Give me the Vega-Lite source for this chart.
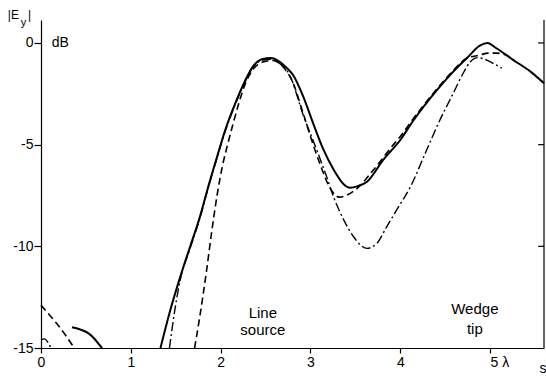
{
  "$schema": "https://vega.github.io/schema/vega-lite/v6.json",
  "width": 503,
  "height": 328,
  "autosize": {"type": "none"},
  "padding": {"left": 41, "top": 20, "right": 2, "bottom": 28},
  "background": "white",
  "config": {
    "view": {"stroke": null},
    "axis": {
      "domainColor": "black", "domainWidth": 1.2, "tickColor": "black", "tickWidth": 1.2,
      "labelColor": "black", "labelFont": "Liberation Sans", "labelFontSize": 14,
      "titleColor": "black", "titleFont": "Liberation Sans", "titleFontSize": 14, "titleFontWeight": "normal",
      "grid": false
    },
    "text": {"font": "Liberation Sans", "color": "black"}
  },
  "datasets": {
    "curves": [
      {"c": "solid", "g": "a", "s": 0.345, "e": -13.98},
      {"c": "solid", "g": "a", "s": 0.43, "e": -14.08},
      {"c": "solid", "g": "a", "s": 0.53, "e": -14.28},
      {"c": "solid", "g": "a", "s": 0.6, "e": -14.57},
      {"c": "solid", "g": "a", "s": 0.66, "e": -14.9},
      {"c": "solid", "g": "a", "s": 0.68, "e": -15},
      {"c": "solid", "g": "b", "s": 1.33, "e": -15},
      {"c": "solid", "g": "b", "s": 1.44, "e": -13.13},
      {"c": "solid", "g": "b", "s": 1.55, "e": -11.5},
      {"c": "solid", "g": "b", "s": 1.66, "e": -10.02},
      {"c": "solid", "g": "b", "s": 1.77, "e": -8.54},
      {"c": "solid", "g": "b", "s": 1.86, "e": -7.1},
      {"c": "solid", "g": "b", "s": 1.96, "e": -5.6},
      {"c": "solid", "g": "b", "s": 2.05, "e": -4.3},
      {"c": "solid", "g": "b", "s": 2.16, "e": -3.0},
      {"c": "solid", "g": "b", "s": 2.27, "e": -1.88},
      {"c": "solid", "g": "b", "s": 2.36, "e": -1.15},
      {"c": "solid", "g": "b", "s": 2.46, "e": -0.8},
      {"c": "solid", "g": "b", "s": 2.56, "e": -0.74},
      {"c": "solid", "g": "b", "s": 2.65, "e": -0.9},
      {"c": "solid", "g": "b", "s": 2.73, "e": -1.2},
      {"c": "solid", "g": "b", "s": 2.81, "e": -1.6},
      {"c": "solid", "g": "b", "s": 2.92, "e": -2.64},
      {"c": "solid", "g": "b", "s": 3.03, "e": -3.95},
      {"c": "solid", "g": "b", "s": 3.14, "e": -5.2},
      {"c": "solid", "g": "b", "s": 3.26, "e": -6.25},
      {"c": "solid", "g": "b", "s": 3.37, "e": -6.95},
      {"c": "solid", "g": "b", "s": 3.44, "e": -7.12},
      {"c": "solid", "g": "b", "s": 3.52, "e": -7.05},
      {"c": "solid", "g": "b", "s": 3.63, "e": -6.82},
      {"c": "solid", "g": "b", "s": 3.81, "e": -5.75},
      {"c": "solid", "g": "b", "s": 4.0, "e": -4.77},
      {"c": "solid", "g": "b", "s": 4.14, "e": -3.85},
      {"c": "solid", "g": "b", "s": 4.41, "e": -2.31},
      {"c": "solid", "g": "b", "s": 4.59, "e": -1.41},
      {"c": "solid", "g": "b", "s": 4.74, "e": -0.75},
      {"c": "solid", "g": "b", "s": 4.89, "e": -0.12},
      {"c": "solid", "g": "b", "s": 4.97, "e": 0.0},
      {"c": "solid", "g": "b", "s": 5.07, "e": -0.26},
      {"c": "solid", "g": "b", "s": 5.26, "e": -0.84},
      {"c": "solid", "g": "b", "s": 5.45, "e": -1.41},
      {"c": "solid", "g": "b", "s": 5.6, "e": -1.98},

      {"c": "dash", "g": "a", "s": 0, "e": -12.9},
      {"c": "dash", "g": "a", "s": 0.09, "e": -13.35},
      {"c": "dash", "g": "a", "s": 0.175, "e": -13.8},
      {"c": "dash", "g": "a", "s": 0.27, "e": -14.35},
      {"c": "dash", "g": "a", "s": 0.37, "e": -15},
      {"c": "dash", "g": "b", "s": 1.71, "e": -15},
      {"c": "dash", "g": "b", "s": 1.77, "e": -13.4},
      {"c": "dash", "g": "b", "s": 1.84, "e": -11.3},
      {"c": "dash", "g": "b", "s": 1.9, "e": -9.3},
      {"c": "dash", "g": "b", "s": 1.96, "e": -7.5},
      {"c": "dash", "g": "b", "s": 2.02, "e": -6.05},
      {"c": "dash", "g": "b", "s": 2.08, "e": -4.95},
      {"c": "dash", "g": "b", "s": 2.14, "e": -3.95},
      {"c": "dash", "g": "b", "s": 2.2, "e": -3.0},
      {"c": "dash", "g": "b", "s": 2.27, "e": -2.05},
      {"c": "dash", "g": "b", "s": 2.36, "e": -1.3},
      {"c": "dash", "g": "b", "s": 2.48, "e": -0.92},
      {"c": "dash", "g": "b", "s": 2.58, "e": -0.86},
      {"c": "dash", "g": "b", "s": 2.68, "e": -1.1},
      {"c": "dash", "g": "b", "s": 2.75, "e": -1.5},
      {"c": "dash", "g": "b", "s": 2.81, "e": -2.0},
      {"c": "dash", "g": "b", "s": 2.9, "e": -3.2},
      {"c": "dash", "g": "b", "s": 3.0, "e": -4.6},
      {"c": "dash", "g": "b", "s": 3.11, "e": -6.0},
      {"c": "dash", "g": "b", "s": 3.22, "e": -7.15},
      {"c": "dash", "g": "b", "s": 3.32, "e": -7.58},
      {"c": "dash", "g": "b", "s": 3.42, "e": -7.45},
      {"c": "dash", "g": "b", "s": 3.52, "e": -7.15},
      {"c": "dash", "g": "b", "s": 3.7, "e": -6.25},
      {"c": "dash", "g": "b", "s": 3.89, "e": -5.18},
      {"c": "dash", "g": "b", "s": 4.0, "e": -4.6},
      {"c": "dash", "g": "b", "s": 4.14, "e": -3.75},
      {"c": "dash", "g": "b", "s": 4.41, "e": -2.25},
      {"c": "dash", "g": "b", "s": 4.59, "e": -1.35},
      {"c": "dash", "g": "b", "s": 4.74, "e": -0.75},
      {"c": "dash", "g": "b", "s": 4.88, "e": -0.6},
      {"c": "dash", "g": "b", "s": 4.98, "e": -0.5},
      {"c": "dash", "g": "b", "s": 5.07, "e": -0.5},
      {"c": "dash", "g": "b", "s": 5.16, "e": -0.56},
      {"c": "dash", "g": "b", "s": 5.26, "e": -0.84},

      {"c": "dashdot", "g": "a", "s": 0, "e": -14.6},
      {"c": "dashdot", "g": "a", "s": 0.04, "e": -14.55},
      {"c": "dashdot", "g": "a", "s": 0.08, "e": -14.75},
      {"c": "dashdot", "g": "a", "s": 0.11, "e": -15},
      {"c": "dashdot", "g": "b", "s": 1.43, "e": -15},
      {"c": "dashdot", "g": "b", "s": 1.49, "e": -13.13},
      {"c": "dashdot", "g": "b", "s": 1.55, "e": -11.66},
      {"c": "dashdot", "g": "b", "s": 1.66, "e": -10.1},
      {"c": "dashdot", "g": "b", "s": 1.77, "e": -8.6},
      {"c": "dashdot", "g": "b", "s": 1.86, "e": -7.15},
      {"c": "dashdot", "g": "b", "s": 1.96, "e": -5.65},
      {"c": "dashdot", "g": "b", "s": 2.05, "e": -4.35},
      {"c": "dashdot", "g": "b", "s": 2.16, "e": -3.05},
      {"c": "dashdot", "g": "b", "s": 2.27, "e": -1.93},
      {"c": "dashdot", "g": "b", "s": 2.36, "e": -1.2},
      {"c": "dashdot", "g": "b", "s": 2.46, "e": -0.85},
      {"c": "dashdot", "g": "b", "s": 2.56, "e": -0.8},
      {"c": "dashdot", "g": "b", "s": 2.65, "e": -0.98},
      {"c": "dashdot", "g": "b", "s": 2.77, "e": -1.6},
      {"c": "dashdot", "g": "b", "s": 2.92, "e": -3.55},
      {"c": "dashdot", "g": "b", "s": 3.07, "e": -5.26},
      {"c": "dashdot", "g": "b", "s": 3.18, "e": -6.58},
      {"c": "dashdot", "g": "b", "s": 3.26, "e": -7.6},
      {"c": "dashdot", "g": "b", "s": 3.37, "e": -8.7},
      {"c": "dashdot", "g": "b", "s": 3.48, "e": -9.53},
      {"c": "dashdot", "g": "b", "s": 3.56, "e": -9.95},
      {"c": "dashdot", "g": "b", "s": 3.63, "e": -10.1},
      {"c": "dashdot", "g": "b", "s": 3.74, "e": -9.85},
      {"c": "dashdot", "g": "b", "s": 3.85, "e": -9.03},
      {"c": "dashdot", "g": "b", "s": 3.96, "e": -8.21},
      {"c": "dashdot", "g": "b", "s": 4.11, "e": -7.1},
      {"c": "dashdot", "g": "b", "s": 4.29, "e": -5.3},
      {"c": "dashdot", "g": "b", "s": 4.44, "e": -3.8},
      {"c": "dashdot", "g": "b", "s": 4.59, "e": -2.47},
      {"c": "dashdot", "g": "b", "s": 4.7, "e": -1.49},
      {"c": "dashdot", "g": "b", "s": 4.78, "e": -0.92},
      {"c": "dashdot", "g": "b", "s": 4.86, "e": -0.72},
      {"c": "dashdot", "g": "b", "s": 4.94, "e": -0.8},
      {"c": "dashdot", "g": "b", "s": 5.04, "e": -1.02},
      {"c": "dashdot", "g": "b", "s": 5.13, "e": -1.24}
    ],
    "notes": [
      {"r": "note", "s": 2.47, "e": -13.53, "t": "Line"},
      {"r": "note", "s": 2.47, "e": -14.35, "t": "source"},
      {"r": "note", "s": 4.83, "e": -13.35, "t": "Wedge"},
      {"r": "note", "s": 4.83, "e": -14.3, "t": "tip"},
      {"r": "unit", "s": 0.12, "e": 0, "t": "dB"},
      {"r": "lab", "s": -0.37, "e": 1.18, "t": "|E"},
      {"r": "lab", "s": -0.145, "e": 1.18, "t": "|"},
      {"r": "sub", "s": -0.225, "e": 0.85, "t": "y"}
    ],
    "rticks": [{"e": 0}, {"e": -5}, {"e": -10}]
  },
  "layer": [
    {
      "data": {"name": "rticks"},
      "mark": {"type": "rule", "color": "black", "strokeWidth": 1.2},
      "encoding": {
        "x": {"datum": 5.535, "type": "quantitative"},
        "x2": {"datum": 5.6},
        "y": {"field": "e", "type": "quantitative"}
      }
    },
    {
      "data": {"values": [{}]},
      "mark": {"type": "rule", "color": "black", "strokeWidth": 1.2},
      "encoding": {
        "x": {"datum": 5.6, "type": "quantitative"},
        "y": {"datum": -15, "type": "quantitative"},
        "y2": {"datum": 1.13}
      }
    },
    {
      "data": {"name": "curves"},
      "encoding": {
        "x": {"field": "s", "type": "quantitative",
              "scale": {"domain": [0, 5.6], "nice": false, "zero": false},
              "axis": {"values": [0, 1, 2, 3, 4, 5], "tickSize": 5, "labelPadding": 2,
                       "labelExpr": "datum.value == 5 ? '5 λ' : format(datum.value, 'd')",
                       "labelAlign": {"condition": {"test": "datum.value == 5", "value": "left"}, "value": "center"},
                       "labelFlush": false,
                       "title": "s", "titleX": 498, "titleY": 24, "titleAlign": "left", "titleBaseline": "alphabetic", "titleAngle": 0}},
        "y": {"field": "e", "type": "quantitative",
              "scale": {"domain": [-15, 1.13], "nice": false, "zero": false},
              "axis": {"orient": "left", "values": [-15, -10, -5, 0], "tickSize": 7, "labelPadding": 1, "title": null,
                       "labelFlush": false,
                       "labelExpr": "datum.value < 0 ? '-' + abs(datum.value) : '0'"}},
        "detail": {"field": "g"}
      },
      "layer": [
        {
          "transform": [{"filter": "datum.c == 'solid'"}],
          "mark": {"type": "line", "color": "black", "strokeWidth": 2, "interpolate": "monotone"}
        },
        {
          "transform": [{"filter": "datum.c == 'dash'"}],
          "mark": {"type": "line", "color": "black", "strokeWidth": 1.6, "strokeDash": [7, 4], "interpolate": "monotone"}
        },
        {
          "transform": [{"filter": "datum.c == 'dashdot'"}],
          "mark": {"type": "line", "color": "black", "strokeWidth": 1.4, "strokeDash": [9, 3, 2, 3], "interpolate": "monotone"}
        }
      ]
    },
    {
      "data": {"name": "notes"},
      "encoding": {
        "x": {"field": "s", "type": "quantitative"},
        "y": {"field": "e", "type": "quantitative"},
        "text": {"field": "t"}
      },
      "layer": [
        {
          "transform": [{"filter": "datum.r == 'note'"}],
          "mark": {"type": "text", "fontSize": 15, "align": "center", "baseline": "alphabetic", "clip": false}
        },
        {
          "transform": [{"filter": "datum.r == 'unit'"}],
          "mark": {"type": "text", "fontSize": 14, "align": "left", "baseline": "middle", "clip": false}
        },
        {
          "transform": [{"filter": "datum.r == 'lab'"}],
          "mark": {"type": "text", "fontSize": 12, "align": "left", "baseline": "alphabetic", "clip": false}
        },
        {
          "transform": [{"filter": "datum.r == 'sub'"}],
          "mark": {"type": "text", "fontSize": 11, "align": "left", "baseline": "alphabetic", "clip": false}
        }
      ]
    }
  ]
}
